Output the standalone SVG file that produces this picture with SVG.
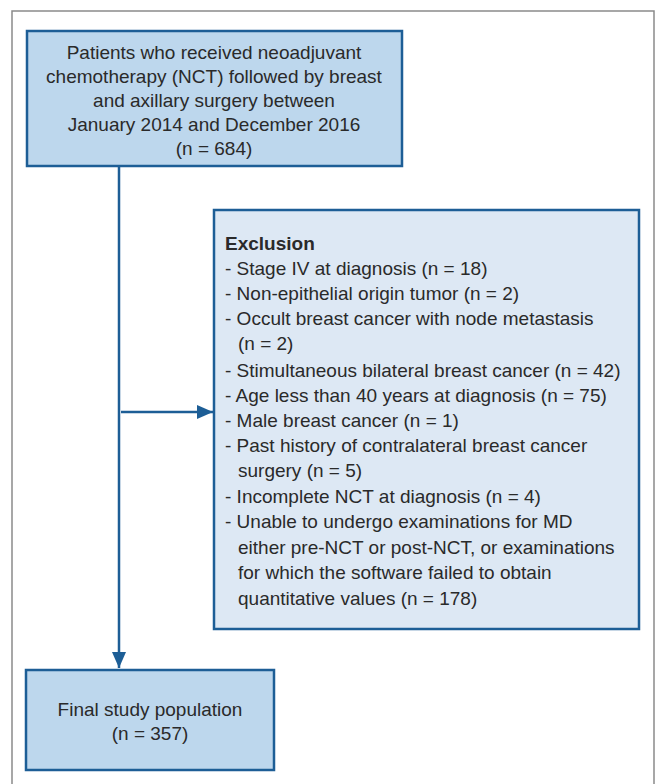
<svg xmlns="http://www.w3.org/2000/svg" width="657" height="784" viewBox="0 0 657 784">
<style>
text{font-family:"Liberation Sans","Open Sans",sans-serif;font-size:19px;fill:#2a2a2a}
.c{text-anchor:middle}
.b{font-weight:bold}
.box{stroke:#1d5e96;stroke-width:2.5}
.dark{fill:#bdd7ed}
.light{fill:#dde8f4}
.conn{stroke:#1d5e96;stroke-width:2.5;fill:none}
</style>
<defs>
<marker id="ah2" markerWidth="16" markerHeight="14" refX="16" refY="7" orient="auto" markerUnits="userSpaceOnUse" viewBox="0 0 16 14">
<path d="M0,0 L16,7 L0,14 Z" fill="#1d5e96"/>
</marker>
</defs>
<rect width="657" height="784" fill="#ffffff"/>
<path d="M12,790 V11 H654 V790" fill="none" stroke="#8a8a8a" stroke-width="1.5"/>
<g id="connectors">
<line class="conn" x1="119" y1="166" x2="119" y2="668" marker-end="url(#ah2)"/>
<line class="conn" x1="121" y1="412" x2="213" y2="412" marker-end="url(#ah2)"/>
</g>
<g id="start">
<rect class="box dark" x="27" y="31" width="375" height="135"/>
<text class="c" x="214" y="59">Patients who received neoadjuvant</text>
<text class="c" x="214" y="83">chemotherapy (NCT) followed by breast</text>
<text class="c" x="214" y="107">and axillary surgery between</text>
<text class="c" x="214" y="131">January 2014 and December 2016</text>
<text class="c" x="214" y="155">(n = 684)</text>
</g>
<g id="exclusion">
<rect class="box light" x="214" y="210" width="425" height="419"/>
<text class="b" x="225" y="250">Exclusion</text>
<text x="225" y="275">- Stage IV at diagnosis (n = 18)</text>
<text x="225" y="300">- Non-epithelial origin tumor (n = 2)</text>
<text x="225" y="325">- Occult breast cancer with node metastasis</text>
<text x="238" y="350">(n = 2)</text>
<text x="225" y="377">- Stimultaneous bilateral breast cancer (n = 42)</text>
<text x="225" y="402">- Age less than 40 years at diagnosis (n = 75)</text>
<text x="225" y="427">- Male breast cancer (n = 1)</text>
<text x="225" y="452">- Past history of contralateral breast cancer</text>
<text x="238" y="477">surgery (n = 5)</text>
<text x="225" y="503">- Incomplete NCT at diagnosis (n = 4)</text>
<text x="225" y="528">- Unable to undergo examinations for MD</text>
<text x="238" y="554">either pre-NCT or post-NCT, or examinations</text>
<text x="238" y="579">for which the software failed to obtain</text>
<text x="238" y="605">quantitative values (n = 178)</text>
</g>
<g id="final">
<rect class="box dark" x="26" y="670" width="248" height="100"/>
<text class="c" x="150" y="716">Final study population</text>
<text class="c" x="150" y="740">(n = 357)</text>
</g>
</svg>
